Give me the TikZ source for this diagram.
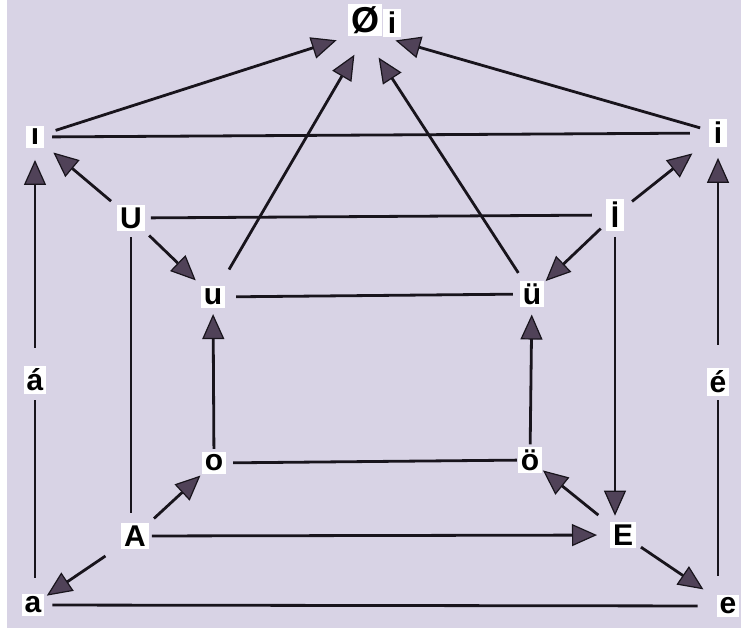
\documentclass[tikz,border=0pt]{standalone}
\usepackage{fontspec}
\setsansfont{Liberation Sans}
\usetikzlibrary{arrows.meta}

\definecolor{VBack}{RGB}{216,211,229}
\definecolor{VLine}{RGB}{24,20,28}
\definecolor{VTip}{RGB}{80,66,88}

\begin{document}
\begin{tikzpicture}[
    x=1pt,
    y=-1pt,
    font=\sffamily\bfseries\fontsize{30}{33}\selectfont,
    vowel/.style={fill=white, text=black, inner sep=2.8pt,
                  minimum width=18pt},
    link/.style={draw=VLine, line width=2.8pt},
    flow/.style={link, -{Triangle[length=25pt, width=22pt,
                 line width=1.2pt, fill=VTip]}}
]

% Photo-like backdrop with the thin white margin at left and bottom.
\fill[white] (0,0) rectangle (741,634);
\fill[VBack] (7,0) rectangle (741,628);

% Top: the null vowel.
\node[vowel, font=\sffamily\bfseries\fontsize{36}{38}\selectfont]
      (null) at (365,20) {Ø};
\node[vowel] (nulli) at (392,23) {i};

% Outer ring.
\node[vowel] (ldot) at (35,137) {ı};
\node[vowel] (ri) at (718,133) {i};
\node[vowel] (aacute) at (35,380) {á};
\node[vowel] (eacute) at (718,382) {é};
\node[vowel] (a) at (33,605) {a};
\node[vowel] (e) at (728,606) {e};

% Inner ring of capitals.
\node[vowel] (U) at (131,218) {U};
\node[vowel] (Idot) at (615,215) {İ};
\node[vowel] (A) at (135,536) {A};
\node[vowel] (E) at (623,535) {E};

% Middle ring.
\node[vowel] (u) at (213,297) {u};
\node[vowel] (ue) at (532,294) {ü};
\node[vowel] (o) at (214,463) {o};
\node[vowel] (oe) at (530,460) {ö};

% Plain edges (from/to/gap at start/gap at end).
\foreach \p/\q/\s/\t in {ldot/ri/8pt/19pt, u/ue/11pt/7pt, o/oe/7pt/1pt,
                         a/e/8pt/19pt} {
    \draw[link, shorten <=\s, shorten >=\t] (\p) -- (\q);
}
\draw[link, shorten <=6pt, shorten >=14pt] (U) -- (Idot);
\draw[link, shorten <=6pt, shorten >=10pt] (U) -- (U |- A.north);
\draw[link, shorten <=6pt, shorten >=16pt] (aacute) -- (aacute |- a.north);
\draw[link, shorten <=4pt, shorten >=19pt] (eacute) -- (eacute |- e.north);

% Arrows between the rings.
\foreach \p/\q/\s/\t in {U/ldot/8pt/12pt, U/u/6pt/8pt,
                         Idot/ri/10pt/21pt, Idot/ue/7pt/2pt,
                         o/u/3pt/6pt, oe/ue/2pt/7pt,
                         A/o/7pt/2pt, E/oe/15pt/1pt,
                         A/E/3pt/13pt, A/a/19pt/3pt, E/e/6pt/16pt} {
    \draw[flow, shorten <=\s, shorten >=\t] (\p) -- (\q);
}
\draw[flow, shorten <=6pt, shorten >=6pt] (Idot) -- (Idot |- E.north);
\draw[flow, shorten <=18pt, shorten >=12pt] (aacute) -- (aacute |- ldot.south);
\draw[flow, shorten <=23pt, shorten >=11pt] (eacute) -- (eacute |- ri.south);

% Arrows converging on the null vowel.
\draw[flow, shorten <=12pt, shorten >=12pt] (ldot) -- (null.south west);
\draw[flow, shorten <=9pt, shorten >=14pt] (ri) -- (null.south east);
\draw[flow, shorten <=19pt, shorten >=21pt] (u) -- (null.south);
\draw[flow, shorten <=9pt, shorten >=25pt] (ue) -- (null.south);
\end{tikzpicture}
\end{document}
